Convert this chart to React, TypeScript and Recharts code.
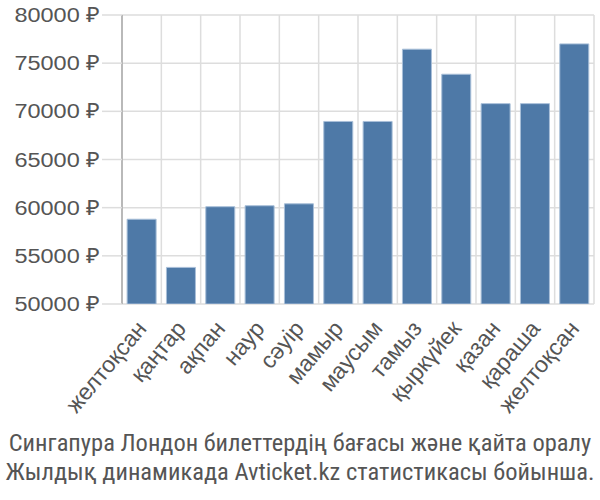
import { BarChart, Bar, XAxis, YAxis, CartesianGrid } from 'recharts'

const months = ['желтоқсан', 'қаңтар', 'ақпан', 'наур', 'сәуір', 'мамыр', 'маусым', 'тамыз', 'қыркүйек', 'қазан', 'қараша', 'желтоқсан']
const prices = [58800, 53800, 60100, 60200, 60400, 68950, 68950, 76450, 73850, 70800, 70800, 77000]
const yTicks = [50000, 55000, 60000, 65000, 70000, 75000, 80000]
const caption = ['Сингапура Лондон билеттердің бағасы және қайта оралу', 'Жылдық динамикада Avticket.kz статистикасы бойынша.']

const data = months.map((m, i) => ({ month: m, idx: i, price: prices[i] }))
const bounds = months.map((_, i) => i).concat([months.length])
const FONT = "'Liberation Sans', Arial, sans-serif"

const MonthTick = (props: any) => {
  const { x, y, payload } = props
  return (
    <text
      x={x}
      y={y}
      transform={`rotate(-50 ${x} ${y})`}
      textAnchor="end"
      dominantBaseline="central"
      fill="#555"
      fontSize={23}
      fontFamily={FONT}
    >
      {payload.value}
    </text>
  )
}

const PriceTick = (props: any) => {
  const { x, y, payload } = props
  return (
    <text
      transform={`translate(${x} ${y}) scale(1.12 1)`}
      textAnchor="end"
      dominantBaseline="central"
      fill="#555"
      fontSize={21}
      fontFamily={FONT}
    >
      {`${payload.value} ₽`}
    </text>
  )
}

export default function App() {
  return (
    <div style={{ position: 'absolute', left: 0, top: 0, width: 600, height: 500, background: '#fff' }}>
      <BarChart width={600} height={420} data={data} margin={{ top: 15, right: 6, left: 0, bottom: 0 }} barCategoryGap="13%">
        <CartesianGrid
          stroke="#ddd"
          strokeWidth={1.5}
          verticalCoordinatesGenerator={({ offset }: any) => bounds.map((b) => offset.left + (b * offset.width) / months.length)}
        />
        <XAxis xAxisId="grid" dataKey="idx" type="number" domain={[0, 12]} ticks={bounds} height={0} tick={() => <g />} tickSize={19} tickLine={{ stroke: '#ddd', strokeWidth: 1.5 }} axisLine={{ stroke: '#ccc', strokeWidth: 1.5 }} />
        <XAxis xAxisId="cat" dataKey="month" height={116} interval={0} tickLine={false} axisLine={false} tick={<MonthTick />} tickMargin={14} />
        <YAxis
          domain={[50000, 80000]}
          ticks={yTicks}
          width={122}
          tick={<PriceTick />}
          tickSize={20}
          tickMargin={2}
          tickLine={{ stroke: '#ddd', strokeWidth: 1.5 }}
          axisLine={{ stroke: '#aaa', strokeWidth: 1.5 }}
          allowDataOverflow
        />
        <Bar xAxisId="cat" dataKey="price" fill="#4e79a7" stroke="#a8bfd8" strokeWidth={1} isAnimationActive={false} />
      </BarChart>
      <div style={{ position: 'absolute', left: 0, top: 428, width: 600, textAlign: 'center', color: '#555', fontSize: 24.5, lineHeight: '29px', fontFamily: "'Liberation Sans Narrow', 'Roboto Condensed', 'Liberation Sans', sans-serif", whiteSpace: 'nowrap' }}>
        {caption.map((c, i) => (
          <div key={i}>{c}</div>
        ))}
      </div>
    </div>
  )
}
